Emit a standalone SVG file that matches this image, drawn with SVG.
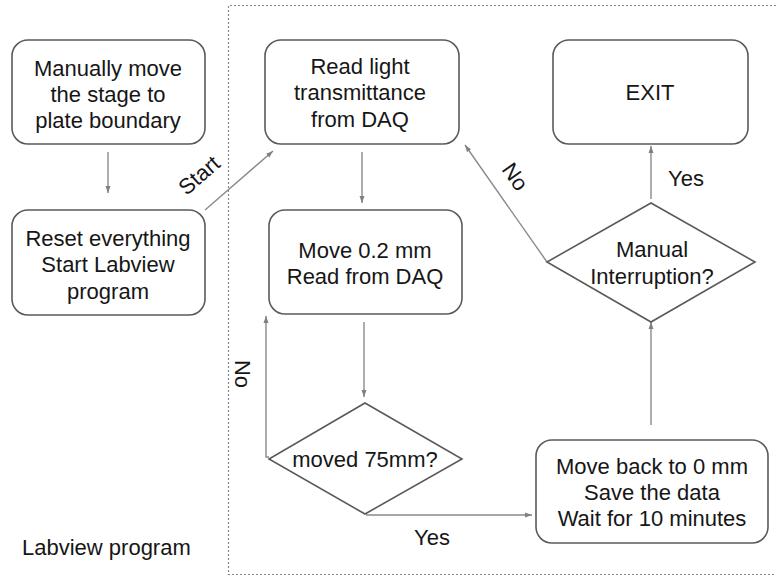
<svg xmlns="http://www.w3.org/2000/svg" width="776" height="577" viewBox="0 0 776 577">
<defs>
<marker id="ah" markerWidth="8" markerHeight="6" refX="7" refY="3" orient="auto" markerUnits="userSpaceOnUse">
<path d="M0,0.5 L7,3 L0,5.5 Z" fill="#808080"/>
</marker>
<style>
.box{fill:#fff;stroke:#5a5a5a;stroke-width:1.6}
.t{font-family:"Liberation Sans",Arial,sans-serif;font-size:22px;fill:#161616;text-anchor:middle}
.lbl{font-family:"Liberation Sans",Arial,sans-serif;font-size:22px;fill:#161616}
.c{fill:none;stroke:#8a8a8a;stroke-width:1.4}
.ca{fill:none;stroke:#8a8a8a;stroke-width:1.4;marker-end:url(#ah)}
</style>
</defs>
<rect width="776" height="577" fill="#fff"/>
<g id="frame">
<path d="M776,5.5 L228.5,5.5 L228.5,574.5 L776,574.5" fill="none" stroke="#888" stroke-width="1.2" stroke-dasharray="2,2"/>
</g>
<g id="connectors">
<line class="ca" x1="108" y1="152" x2="108" y2="193"/>
<line class="ca" x1="205" y1="210" x2="273" y2="151"/>
<line class="ca" x1="362" y1="152" x2="362" y2="203"/>
<line class="ca" x1="364" y1="322" x2="364" y2="397"/>
<polyline class="ca" points="269,457 266,457 266,316"/>
<polyline class="ca" points="366,515 532,515"/>
<line class="ca" x1="651" y1="425" x2="651" y2="322"/>
<line class="ca" x1="651" y1="199" x2="651" y2="146"/>
<line class="ca" x1="547" y1="262" x2="465" y2="145"/>
</g>
<g id="labels">
<text class="lbl" text-anchor="middle" transform="translate(204,181) rotate(-41)">Start</text>
<text class="lbl" text-anchor="middle" transform="translate(509,181) rotate(55)">No</text>
<text class="lbl" text-anchor="middle" transform="translate(235,374) rotate(90)">No</text>
<text class="lbl" text-anchor="middle" x="432" y="545">Yes</text>
<text class="lbl" text-anchor="middle" x="686" y="186">Yes</text>
<text class="lbl" x="22" y="555">Labview program</text>
</g>
<g id="n_manual">
<rect class="box" x="12" y="40" width="193" height="104" rx="16"/>
<text class="t" x="108" y="76">Manually move</text>
<text class="t" x="108" y="102">the stage to</text>
<text class="t" x="108" y="128">plate boundary</text>
</g>
<g id="n_reset">
<rect class="box" x="12" y="210" width="193" height="105" rx="16"/>
<text class="t" x="108" y="246">Reset everything</text>
<text class="t" x="108" y="272">Start Labview</text>
<text class="t" x="108" y="299">program</text>
</g>
<g id="n_read">
<rect class="box" x="265" y="40" width="194" height="104" rx="16"/>
<text class="t" x="360" y="74">Read light</text>
<text class="t" x="360" y="100">transmittance</text>
<text class="t" x="360" y="127">from DAQ</text>
</g>
<g id="n_move">
<rect class="box" x="269" y="210" width="193" height="104" rx="16"/>
<text class="t" x="365" y="258">Move 0.2 mm</text>
<text class="t" x="365" y="284">Read from DAQ</text>
</g>
<g id="n_moved">
<polygon class="box" points="365,403 462,459 365,514 269,459"/>
<text class="t" x="365" y="467">moved 75mm?</text>
</g>
<g id="n_back">
<rect class="box" x="536" y="440" width="232" height="103" rx="16"/>
<text class="t" x="652" y="474">Move back to 0 mm</text>
<text class="t" x="652" y="500">Save the data</text>
<text class="t" x="652" y="526">Wait for 10 minutes</text>
</g>
<g id="n_interrupt">
<polygon class="box" points="651,203 755,262 651,322 547,262"/>
<text class="t" x="652" y="257">Manual</text>
<text class="t" x="652" y="284">Interruption?</text>
</g>
<g id="n_exit">
<rect class="box" x="553" y="40" width="195" height="104" rx="16"/>
<text class="t" x="650" y="100">EXIT</text>
</g>
</svg>
